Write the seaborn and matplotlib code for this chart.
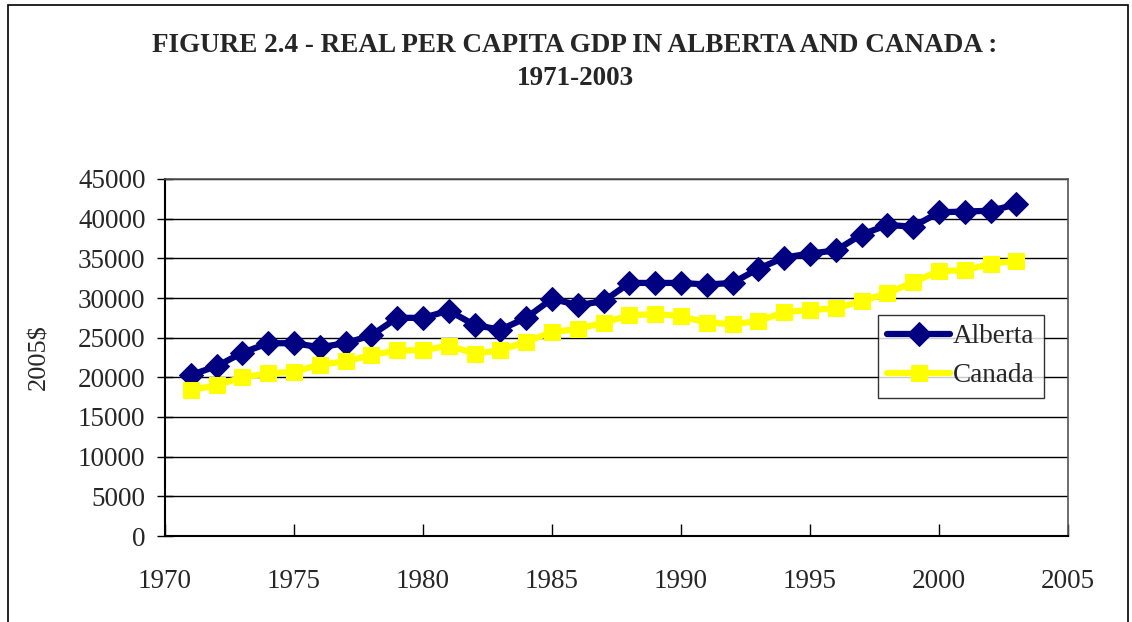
import numpy as np
import pandas as pd
import matplotlib
matplotlib.use("Agg")
import matplotlib.pyplot as plt
import seaborn as sns
from matplotlib.patches import Rectangle

# ==========================================
# DATA
# ==========================================

years = list(range(1971, 2004))

alberta = [
    20300, 21400, 23100, 24300, 24300, 23800, 24300, 25300, 27500, 27500,
    28400, 26600, 26000, 27500, 29900, 29100, 29600, 31900, 31900, 31900,
    31700, 31900, 33700, 35100, 35600, 36000, 38000, 39200, 39000, 40800,
    40900, 41000, 41800
]

canada = [
    18400, 19000, 20000, 20500, 20700, 21600, 22000, 22800, 23400, 23400,
    24000, 23000, 23400, 24500, 25700, 26100, 26900, 27800, 28000, 27700,
    26900, 26700, 27100, 28200, 28500, 28700, 29600, 30600, 32000, 33400,
    33500, 34300, 34700
]

series_names = ["Alberta", "Canada"]
title_text = "FIGURE 2.4 - REAL PER CAPITA GDP IN ALBERTA AND CANADA :\n1971-2003"
y_label = "2005$"

df = pd.DataFrame({
    "year": years * 2,
    "gdp": alberta + canada,
    "region": ["Alberta"] * len(years) + ["Canada"] * len(years),
})

# ==========================================
# STYLE
# ==========================================

sns.set_style("white")
plt.rcParams["font.family"] = ["Liberation Serif", "DejaVu Serif"]

fig = plt.figure(figsize=(11.32, 6.22), dpi=100)
ax = fig.add_axes([165 / 1132, 1 - 536 / 622, (1068 - 165) / 1132, (536 - 179) / 622])

palette = {"Alberta": "#000080", "Canada": "#FFFF00"}
marker_map = {"Alberta": "D", "Canada": "s"}
msize = {"Alberta": 12, "Canada": 11}

for name in series_names:
    sub = df[df["region"] == name]
    sns.lineplot(
        data=sub,
        x="year",
        y="gdp",
        color=palette[name],
        marker=marker_map[name],
        markersize=msize[name],
        markeredgecolor=palette[name],
        linewidth=4.5,
        label=name,
        ax=ax,
    )

# ==========================================
# AXES
# ==========================================

ax.set_xlim(1970, 2005)
ax.set_ylim(0, 45000)
ax.set_xticks(range(1970, 2006, 5))
ax.set_yticks(range(0, 45001, 5000))
ax.yaxis.grid(True, color="black", linewidth=1.0)
ax.set_axisbelow(True)

ax.tick_params(axis="x", direction="in", length=9, width=1, labelsize=19.5, pad=24, color="black")
ax.tick_params(axis="y", direction="inout", length=12, width=1, labelsize=19.5, pad=8, color="black")
ax.tick_params(bottom=True, left=True)

for side in ["top", "right"]:
    ax.spines[side].set_color("#555555")
    ax.spines[side].set_linewidth(1.2)
for side in ["left", "bottom"]:
    ax.spines[side].set_color("black")
    ax.spines[side].set_linewidth(1.5)

ax.set_xlabel("")
ax.set_ylabel(y_label, fontsize=19, labelpad=20)

leg = ax.legend(
    loc="upper left",
    bbox_to_anchor=((878 - 165) / 903, (536 - 315) / 357),
    fontsize=19.5,
    frameon=True,
    fancybox=False,
    edgecolor="black",
    handlelength=2.3,
    borderpad=0.35,
    labelspacing=0.5,
    handletextpad=0.1,
    borderaxespad=0,
)
leg.get_frame().set_linewidth(1.0)

# ==========================================
# TITLE AND OUTER FRAME
# ==========================================

fig.text(
    575 / 1132, 1 - 62 / 622,
    title_text,
    ha="center",
    va="center",
    fontsize=19.5,
    fontweight="bold",
    linespacing=1.45,
)

fig.patches.append(
    Rectangle(
        (8 / 1132, -0.05), (1128 - 8) / 1132, 1 - 5 / 622 + 0.05,
        transform=fig.transFigure,
        fill=False,
        edgecolor="black",
        linewidth=1.2,
    )
)

plt.savefig("out.png", dpi=100)
plt.close()
